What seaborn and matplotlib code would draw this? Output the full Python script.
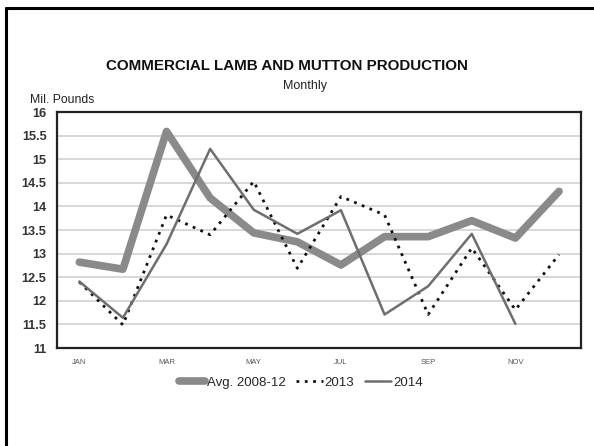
import seaborn as sns
import matplotlib.pyplot as plt
import matplotlib.ticker as mticker
import pandas as pd
import numpy as np

sns.set_style("white")
plt.rcParams["font.family"] = ["Liberation Sans", "DejaVu Sans"]

# Monthly commercial lamb and mutton production, million pounds
months = ["JAN", "FEB", "MAR", "APR", "MAY", "JUN",
          "JUL", "AUG", "SEP", "OCT", "NOV", "DEC"]
avg_2008_12 = [12.82, 12.67, 15.59, 14.18, 13.44, 13.25, 12.76, 13.36, 13.36, 13.70, 13.33, 14.32]
prod_2013 = [12.40, 11.49, 13.82, 13.40, 14.53, 12.69, 14.21, 13.82, 11.71, 13.12, 11.81, 12.98]
prod_2014 = [12.41, 11.64, 13.20, 15.22, 13.93, 13.42, 13.92, 11.71, 12.31, 13.42, 11.51, np.nan]

df = pd.DataFrame({"month": months, "pos": np.arange(len(months)),
                   "Avg. 2008-12": avg_2008_12, "2013": prod_2013, "2014": prod_2014})

fig = plt.figure(figsize=(5.94, 4.46), dpi=100)
ax = fig.add_axes([0.0968, 0.2197, 0.881, 0.529])

sns.lineplot(data=df, x="pos", y="Avg. 2008-12", ax=ax, color="#8a8a8a", lw=5.5,
             label="Avg. 2008-12", solid_capstyle="round", solid_joinstyle="round")
sns.lineplot(data=df, x="pos", y="2013", ax=ax, color="#111111", lw=2.0,
             linestyle=(0, (1, 2)), label="2013")
sns.lineplot(data=df, x="pos", y="2014", ax=ax, color="#6e6e6e", lw=1.8, label="2014")

ax.set_xlim(-0.5, 11.5)
ax.set_ylim(11, 16)
ax.yaxis.set_major_locator(mticker.MultipleLocator(0.5))
ax.yaxis.set_minor_locator(mticker.MultipleLocator(0.1))
ax.yaxis.set_major_formatter(mticker.FuncFormatter(lambda v, p: f"{v:g}"))
ax.grid(axis="y", which="major", color="#d4d4d4", lw=1.3)
ax.set_axisbelow(True)

ax.set_xticks(df["pos"][::2])
ax.set_xticklabels(df["month"][::2], fontsize=5.5, color="#555555")
ax.set_xticks(np.arange(-0.5, 12, 1), minor=True)
ax.tick_params(axis="x", which="major", length=0, pad=8)
ax.tick_params(axis="x", which="minor", length=4, color="#888888", direction="out")
ax.tick_params(axis="y", which="major", length=4, labelsize=9.2, color="#444444", pad=4)
ax.tick_params(axis="y", which="minor", length=2, color="#999999")
for lab in ax.get_yticklabels():
    lab.set_fontweight("bold")
    lab.set_color("#333333")

for sp in ax.spines.values():
    sp.set_color("#222222")
    sp.set_linewidth(1.6)

ax.set_xlabel("")
ax.set_ylabel("")

fig.text(0.483, 0.852, "COMMERCIAL LAMB AND MUTTON PRODUCTION", ha="center", va="center",
         fontsize=10.9, fontweight="bold", color="#111111")
fig.text(0.513, 0.807, "Monthly", ha="center", va="center", fontsize=9, color="#222222")
fig.text(0.05, 0.775, "Mil. Pounds", ha="left", va="center", fontsize=8.8, color="#222222")

ax.legend(loc="upper center", bbox_to_anchor=(0.465, -0.07), ncol=3, frameon=False,
          fontsize=9.5, handlelength=2.0, handletextpad=0.15, columnspacing=0.8)

# outer frame (top and left edges only)
fig.add_artist(plt.Line2D([0.01, 0.01], [0.0, 0.982], transform=fig.transFigure,
                          color="black", lw=2.2))
fig.add_artist(plt.Line2D([0.01, 1.0], [0.982, 0.982], transform=fig.transFigure,
                          color="black", lw=2.2))

fig.savefig("out.png", dpi=100)
plt.close(fig)
